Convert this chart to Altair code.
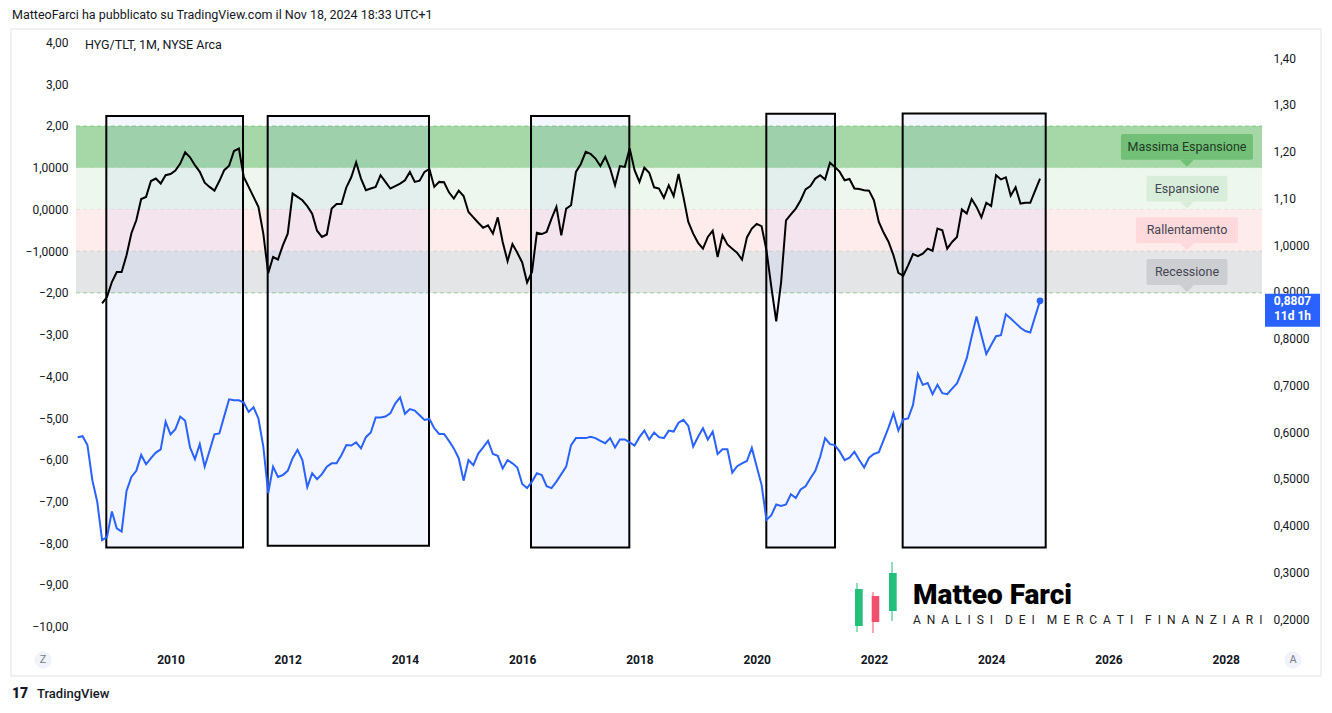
import altair as alt
import pandas as pd

# ---------------- data ----------------
# Oscillator (left scale), monthly closes from Nov 2008 to Nov 2024
black_start = (2008, 11)
black_values = [
    -2.25, -2.10,                                                                   # 2008 Nov-Dec
    -1.74, -1.50, -1.50, -1.10, -0.57, -0.26, 0.25, 0.30, 0.68, 0.74, 0.62, 0.82,   # 2009
    0.85, 0.93, 1.10, 1.37, 1.25, 1.06, 0.90, 0.64, 0.54, 0.45, 0.68, 0.94,         # 2010
    1.05, 1.40, 1.46, 0.78, 0.54, 0.30, 0.06, -0.58, -1.53, -1.14, -1.20, -0.86,    # 2011
    -0.58, 0.38, 0.30, 0.22, 0.08, -0.10, -0.51, -0.66, -0.60, 0.02, 0.13, 0.13,    # 2012
    0.53, 0.77, 1.13, 0.74, 0.46, 0.50, 0.54, 0.82, 0.66, 0.50, 0.56, 0.62,         # 2013
    0.70, 0.90, 0.66, 0.69, 0.90, 0.97, 0.54, 0.66, 0.65, 0.41, 0.26, 0.45,         # 2014
    0.32, -0.06, -0.19, -0.32, -0.44, -0.38, -0.58, -0.19, -0.78, -1.24, -0.83, -1.04,  # 2015
    -1.27, -1.75, -1.50, -0.56, -0.59, -0.54, -0.22, 0.06, -0.62, 0.02, 0.10, 0.90,  # 2016
    1.09, 1.38, 1.33, 1.22, 1.04, 1.26, 0.98, 0.58, 1.04, 1.02, 1.46, 0.94,         # 2017
    0.66, 1.00, 0.88, 0.53, 0.50, 0.28, 0.58, 0.32, 0.85, 0.30, -0.30, -0.58,       # 2018
    -0.80, -0.94, -0.66, -0.51, -1.14, -0.62, -0.84, -0.94, -1.04, -1.20, -0.67, -0.46,  # 2019
    -0.35, -0.40, -0.98, -1.86, -2.68, -1.74, -0.26, -0.12, 0.02, 0.22, 0.48, 0.56,  # 2020
    0.74, 0.82, 0.72, 1.12, 1.02, 0.90, 0.70, 0.73, 0.50, 0.49, 0.46, 0.45,         # 2021
    0.22, -0.30, -0.56, -0.78, -1.10, -1.52, -1.59, -1.34, -1.07, -1.12, -1.06, -0.94,  # 2022
    -0.99, -0.46, -0.50, -0.94, -0.78, -0.66, 0.00, -0.10, 0.25, 0.06, -0.19, 0.16,  # 2023
    0.08, 0.82, 0.72, 0.77, 0.33, 0.53, 0.14, 0.16, 0.16, 0.45, 0.74,               # 2024 Jan-Nov
]

# HYG/TLT ratio (right scale), monthly closes from Jun 2008 to Nov 2024
blue_start = (2008, 6)
blue_values = [
    0.589, 0.591, 0.572, 0.497, 0.451, 0.369, 0.375,                                # 2008 Jun-Dec
    0.430, 0.394, 0.387, 0.474, 0.504, 0.517, 0.551, 0.531, 0.544, 0.556, 0.563, 0.622,  # 2009
    0.595, 0.606, 0.633, 0.624, 0.567, 0.542, 0.574, 0.526, 0.560, 0.595, 0.597, 0.634,  # 2010
    0.670, 0.668, 0.668, 0.663, 0.643, 0.653, 0.629, 0.569, 0.469, 0.526, 0.504, 0.508,  # 2011
    0.517, 0.544, 0.562, 0.540, 0.482, 0.512, 0.499, 0.510, 0.526, 0.533, 0.533, 0.551,  # 2012
    0.572, 0.571, 0.578, 0.565, 0.589, 0.599, 0.631, 0.631, 0.633, 0.640, 0.661, 0.674,  # 2013
    0.639, 0.649, 0.646, 0.636, 0.626, 0.628, 0.608, 0.596, 0.596, 0.581, 0.565, 0.544,  # 2014
    0.496, 0.540, 0.529, 0.554, 0.567, 0.581, 0.553, 0.549, 0.522, 0.540, 0.533, 0.524,  # 2015
    0.489, 0.480, 0.494, 0.512, 0.508, 0.484, 0.480, 0.494, 0.510, 0.526, 0.572, 0.587,  # 2016
    0.587, 0.587, 0.590, 0.587, 0.581, 0.576, 0.587, 0.567, 0.584, 0.584, 0.578, 0.571,  # 2017
    0.589, 0.603, 0.584, 0.599, 0.589, 0.587, 0.603, 0.601, 0.620, 0.626, 0.613, 0.569,  # 2018
    0.590, 0.608, 0.584, 0.601, 0.553, 0.563, 0.563, 0.513, 0.527, 0.533, 0.538, 0.566,  # 2019
    0.526, 0.487, 0.412, 0.422, 0.445, 0.442, 0.445, 0.467, 0.459, 0.477, 0.484, 0.501,  # 2020
    0.517, 0.547, 0.587, 0.574, 0.572, 0.558, 0.540, 0.545, 0.558, 0.540, 0.524, 0.545,  # 2021
    0.553, 0.557, 0.583, 0.610, 0.640, 0.603, 0.627, 0.629, 0.658, 0.724, 0.701, 0.705,  # 2022
    0.681, 0.701, 0.683, 0.681, 0.693, 0.704, 0.729, 0.758, 0.804, 0.847, 0.807, 0.767,  # 2023
    0.786, 0.805, 0.807, 0.852, 0.843, 0.833, 0.823, 0.816, 0.813, 0.847, 0.8807,        # 2024 Jan-Nov
]

# highlighted periods (decimal years) and their vertical extent (left scale)
box_starts = [2008.905, 2011.658, 2016.150, 2020.164, 2022.490]
box_ends = [2011.237, 2014.410, 2017.827, 2021.336, 2024.930]
box_tops = [2.24, 2.24, 2.24, 2.29, 2.30]
box_bottoms = [-8.10, -8.06, -8.10, -8.10, -8.10]

# regime zones (left scale)
zone_names = ["Massima Espansione", "Espansione", "Rallentamento", "Recessione"]
zone_lows = [1, 0, -1, -2]
zone_highs = [2, 1, 0, -1]
zone_label_time = 2027.34

level_values = [2, 1, 0, -1, -2]

x_ticks = [2010, 2012, 2014, 2016, 2018, 2020, 2022, 2024, 2026, 2028]
left_ticks = [4, 3, 2, 1, 0, -1, -2, -3, -4, -5, -6, -7, -8, -9, -10]
right_ticks = [1.4, 1.3, 1.2, 1.1, 1.0, 0.9, 0.8, 0.7, 0.6, 0.5, 0.4, 0.3, 0.2]

last_label = "0,8807"
countdown = "11d 1h"


def monthly(start, values):
    y, m = start
    rows = []
    for v in values:
        rows.append({"t": y + (m - 1) / 12.0, "val": v})
        m += 1
        if m > 12:
            m = 1
            y += 1
    return pd.DataFrame(rows)


black_df = monthly(black_start, black_values)
blue_df = monthly(blue_start, blue_values)
boxes_df = pd.DataFrame({"s": box_starts, "e": box_ends, "top": box_tops, "bot": box_bottoms})
zones_df = pd.DataFrame({"name": zone_names, "lo": zone_lows, "hi": zone_highs})
levels_df = pd.DataFrame({"lvl": [str(v) for v in level_values], "v": level_values})

# ---------------- layout ----------------
W, H = 1186, 618
FONT = "Roboto"
TXT = "#131722"
NB = "\u00a0"

X = alt.Scale(domain=[2008.388, 2028.62], nice=False, zero=False, padding=0)
YL = alt.Scale(domain=[-10.51, 4.30], nice=False, zero=False, padding=0)
YR = alt.Scale(domain=[0.138, 1.46], nice=False, zero=False, padding=0)

left_labels = ("datum.value == 1 ? '1,0000' : datum.value == 0 ? '0,0000' : "
               "datum.value == -1 ? '\u22121,0000' : "
               "replace(replace(format(datum.value, '.2f'), '.', ','), '-', '\u2212')")
right_labels = ("datum.value > 1.05 ? replace(format(datum.value, '.2f'), '.', ',') : "
                "replace(format(datum.value, '.4f'), '.', ',')")

# identical axis definitions used by every layer sharing a scale
AX_X = alt.Axis(values=x_ticks, format="d", ticks=False, domain=False, grid=False,
                labelFontWeight="bold", labelColor=TXT, labelFontSize=12, labelPadding=6,
                labelFont=FONT, title=None)
AX_L = alt.Axis(orient="left", values=left_ticks, labelExpr=left_labels, ticks=False,
                domain=False, grid=False, labelColor=TXT, labelFontSize=12,
                labelPadding=8, labelFont=FONT, title=None)
AX_R = alt.Axis(orient="right", values=right_ticks, labelExpr=right_labels, ticks=False,
                domain=False, grid=False, labelColor=TXT, labelFontSize=12,
                labelPadding=11, labelFont=FONT, title=None)


def xq(f):
    return alt.X(f, scale=X, axis=AX_X, title=None)


def yl(f):
    return alt.Y(f, scale=YL, axis=AX_L, title=None)


def yr(f):
    return alt.Y(f, scale=YR, axis=AX_R, title=None)


one = pd.DataFrame({"k": [0]})


def text_at(txt, x, y, **kw):
    return alt.Chart(pd.DataFrame({"t": [txt]})).mark_text(**kw).encode(
        text="t:N", x=alt.value(x), y=alt.value(y))


def rect_px(x, x2, y, y2, **kw):
    return alt.Chart(one).mark_rect(**kw).encode(
        x=alt.value(x), x2=alt.value(x2), y=alt.value(y), y2=alt.value(y2))


# panel frame (outline only)
frame = rect_px(-65, 1245, -1, 646, fillOpacity=0, stroke="#e0e3eb", strokeWidth=1)

bands = alt.Chart(zones_df).mark_rect().encode(
    x=alt.value(0), x2=alt.value(W),
    y=yl("lo:Q"), y2="hi:Q",
    color=alt.Color("name:N", legend=None, scale=alt.Scale(
        domain=zone_names,
        range=["rgba(76,175,80,0.5)", "rgba(76,175,80,0.1)",
               "rgba(242,54,69,0.1)", "rgba(120,123,134,0.2)"])),
)

levels = alt.Chart(levels_df).mark_rule(strokeDash=[4, 3], strokeWidth=1).encode(
    x=alt.value(0), x2=alt.value(W),
    y=yl("v:Q"),
    color=alt.Color("lvl:N", legend=None, scale=alt.Scale(
        domain=["2", "1", "0", "-1", "-2"],
        range=["#5cb860", "#5cb860", "#9598a1", "#f28b93", "#9598a1"])),
)

boxes = alt.Chart(boxes_df).mark_rect(
    fill="#2962ff", fillOpacity=0.05, stroke="black", strokeWidth=2).encode(
    x=xq("s:Q"), x2="e:Q", y=yl("top:Q"), y2="bot:Q",
)

black = alt.Chart(black_df).mark_line(color="black", strokeWidth=2).encode(
    x=xq("t:Q"), y=yl("val:Q"),
)

# zone callouts
callout_styles = {
    "Massima Espansione": dict(w=132, fill="#72bf78", text="#1e3a21"),
    "Espansione": dict(w=81, fill="#d9eeda", text="#434651"),
    "Rallentamento": dict(w=102, fill="#ffd9db", text="#434651"),
    "Recessione": dict(w=81, fill="#cdced2", text="#434651"),
}
callouts = []
for name, lo, hi in zip(zone_names, zone_lows, zone_highs):
    st = callout_styles[name]
    mid = (lo + hi) / 2.0
    d = pd.DataFrame({"t": [zone_label_time], "top": [mid + 0.31],
                      "bot": [mid - 0.31], "mid": [mid], "name": [name]})
    callouts.append(alt.Chart(d).mark_bar(size=st["w"], color=st["fill"], cornerRadius=2).encode(
        x=xq("t:Q"), y=yl("top:Q"), y2="bot:Q"))
    callouts.append(alt.Chart(d).mark_point(
        shape="M-1,0L1,0L0,1Z", size=196, filled=True, opacity=1, color=st["fill"]).encode(
        x=xq("t:Q"), y=yl("bot:Q")))
    callouts.append(alt.Chart(d).mark_text(
        font=FONT, fontSize=12.5, color=st["text"], baseline="middle").encode(
        x=xq("t:Q"), y=yl("mid:Q"), text="name:N"))

# texts & decorations
header = text_at("MatteoFarci ha pubblicato su TradingView.com il Nov 18, 2024 18:33 UTC+1",
                 -64, -15, align="left", baseline="middle", font=FONT, fontSize=12.5, color=TXT)
symbol = text_at("HYG/TLT, 1M, NYSE Arca", 9, 15, align="left", baseline="middle",
                 font=FONT, fontSize=12.5, color=TXT)
footer = text_at("TradingView", -39, 664, align="left", baseline="middle",
                 font=FONT, fontSize=13, color=TXT, fontWeight=500)
footer_logo = text_at("17", -64, 664, align="left", baseline="middle",
                      font=FONT, fontSize=14, color=TXT, fontWeight=900)

zbtn = alt.Chart(one).mark_point(filled=True, size=300, color="#f0f3fa", opacity=1).encode(
    x=alt.value(-33), y=alt.value(630))
ztxt = text_at("Z", -33, 630, align="center", baseline="middle", font=FONT,
               fontSize=11, color="#787b86")
abtn = alt.Chart(one).mark_point(filled=True, size=300, color="#f0f3fa", opacity=1).encode(
    x=alt.value(1217), y=alt.value(630))
atxt = text_at("A", 1217, 630, align="center", baseline="middle", font=FONT,
               fontSize=11, color="#787b86")

# watermark logo (decoration)
tagline_words = ["ANALISI", "DEI", "MERCATI", "FINANZIARI"]
tagline = (NB * 4).join((NB * 2).join(w) for w in tagline_words)
logo = [
    rect_px(780.5, 781.5, 553, 602, fill="#22c07a"),
    rect_px(779, 786.7, 559, 596, fill="#22c07a"),
    rect_px(796.5, 797.5, 562, 603, fill="#f0506e"),
    rect_px(795.7, 803.3, 566, 592, fill="#f0506e"),
    rect_px(815.5, 816.5, 532, 591, fill="#22c07a"),
    rect_px(813, 820.7, 543, 581, fill="#22c07a"),
    text_at("Matteo Farci", 837, 566, align="left", baseline="middle", font=FONT,
            fontSize=28, fontWeight=900, color="black"),
    text_at(tagline, 837, 590, align="left", baseline="middle", font=FONT,
            fontSize=12, color="#222222"),
]

left_group = alt.layer(frame, bands, levels, boxes, black, *callouts, header, symbol,
                       footer, footer_logo, zbtn, ztxt, abtn, atxt, *logo)

blue = alt.Chart(blue_df).mark_line(color="#2962ff", strokeWidth=2).encode(
    x=xq("t:Q"), y=yr("val:Q"),
)
last_df = blue_df.tail(1).assign(lbl=last_label, cd=countdown)
dot = alt.Chart(last_df).mark_point(filled=True, size=45, color="#2962ff", opacity=1).encode(
    x=xq("t:Q"), y=yr("val:Q"))
badge = alt.Chart(last_df).mark_point(
    shape="M-1,-0.255L1,-0.255L1,0.945L-1,0.945Z", size=3025, filled=True, opacity=1,
    color="#2962ff").encode(x=alt.value(1216.5), y=yr("val:Q"))
badge_t1 = alt.Chart(last_df).mark_text(
    font=FONT, fontSize=12, fontWeight="bold", color="white", baseline="middle").encode(
    x=alt.value(1216.5), y=yr("val:Q"), text="lbl:N")
badge_t2 = alt.Chart(last_df).mark_text(
    font=FONT, fontSize=12, fontWeight="bold", color="white", baseline="middle", dy=15).encode(
    x=alt.value(1216.5), y=yr("val:Q"), text="cd:N")

right_group = alt.layer(blue, dot, badge, badge_t1, badge_t2)

chart = alt.layer(left_group, right_group).resolve_scale(y="independent").properties(
    width=W, height=H,
    padding={"left": 68, "top": 22, "right": 60, "bottom": 55},
    autosize=alt.AutoSizeParams(type="none"),
    background="white",
).configure_view(stroke=None)

chart.save("out.html", embed_options={"renderer": "svg", "actions": False})
